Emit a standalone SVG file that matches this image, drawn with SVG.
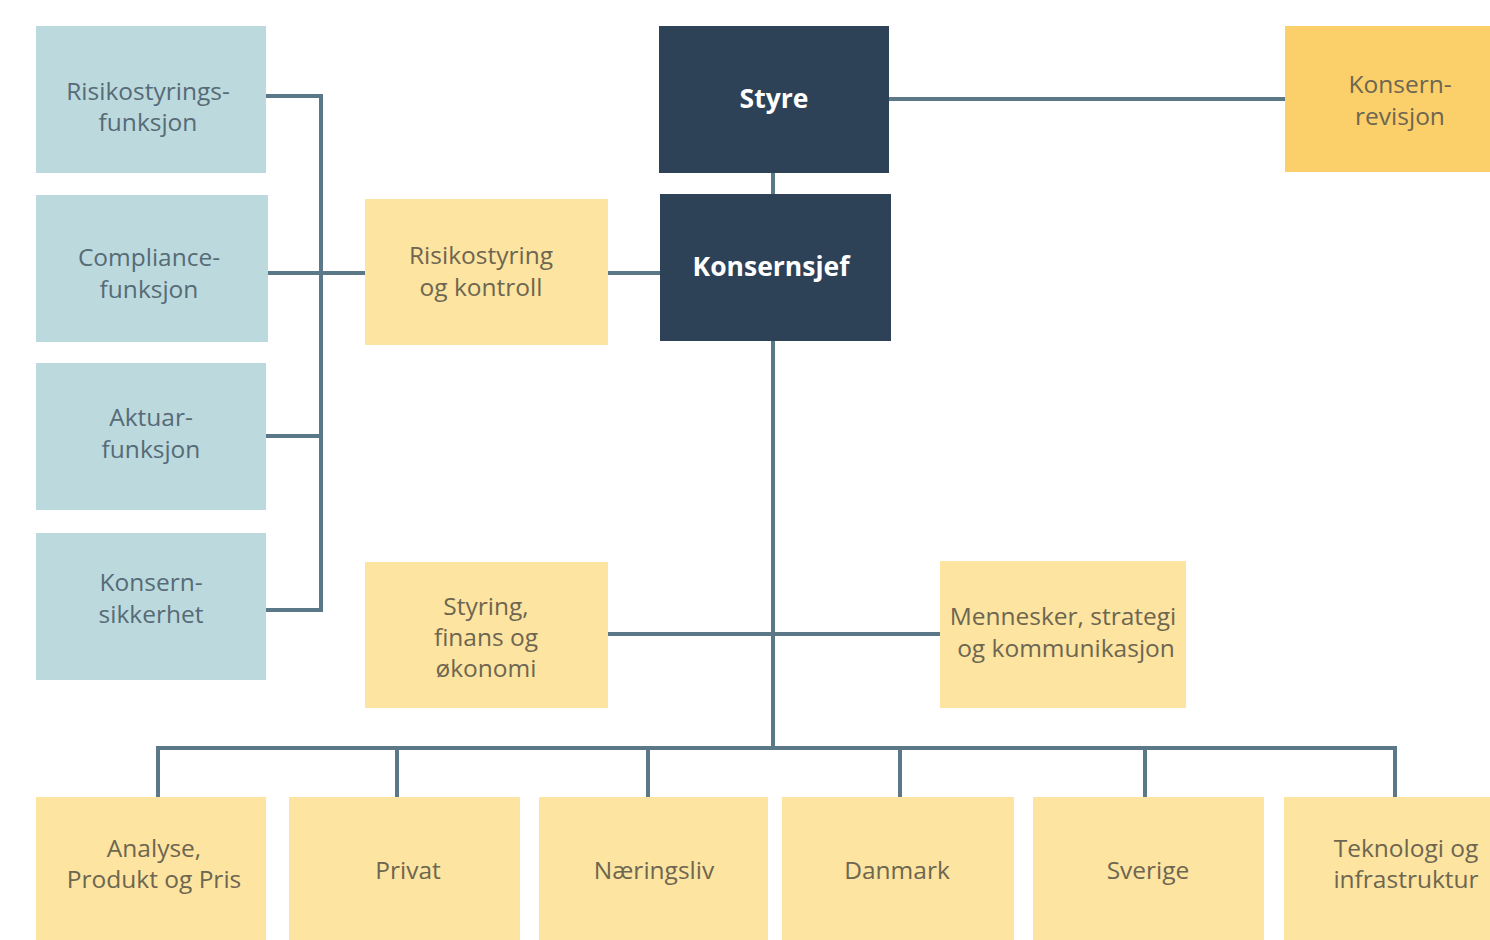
<svg xmlns="http://www.w3.org/2000/svg" width="1490" height="940" viewBox="0 0 1490 940">
<style>
.blue{fill:#bcd9de}
.yel{fill:#fde4a0}
.org{fill:#fbcf69}
.navy{fill:#2d4257}
.t{font-family:"Open Sans","Noto Sans",sans-serif;font-size:24.5px;text-anchor:middle;dominant-baseline:central}
.tb{fill:#566b76}
.ty{fill:#6d6651}
.tw{fill:#ffffff;font-weight:bold;font-size:26.5px}
.c{stroke:#5b7889;stroke-width:4;fill:none}
</style>
<rect width="1490" height="940" fill="#ffffff"/>
<g id="connectors">
<path class="c" d="M266 96H321V610H266M268 273H365M266 436H321"/>
<path class="c" d="M608 273H660"/>
<path class="c" d="M773 173V194"/>
<path class="c" d="M889 99H1285"/>
<path class="c" d="M773 341V748"/>
<path class="c" d="M608 634H940"/>
<path class="c" d="M158 797V748H1395V797M397 748V797M648 748V797M900 748V797M1145 748V797"/>
</g>
<g id="n-risikostyringsfunksjon"><rect class="blue" x="36" y="26" width="230" height="147"/><text class="t tb"><tspan x="148" y="90">Risikostyrings-</tspan><tspan x="148" y="121">funksjon</tspan></text></g>
<g id="n-compliance"><rect class="blue" x="36" y="195" width="232" height="147"/><text class="t tb"><tspan x="149" y="256">Compliance-</tspan><tspan x="149" y="288">funksjon</tspan></text></g>
<g id="n-aktuar"><rect class="blue" x="36" y="363" width="230" height="147"/><text class="t tb"><tspan x="151" y="416">Aktuar-</tspan><tspan x="151" y="448">funksjon</tspan></text></g>
<g id="n-konsernsikkerhet"><rect class="blue" x="36" y="533" width="230" height="147"/><text class="t tb"><tspan x="151" y="581">Konsern-</tspan><tspan x="151" y="613">sikkerhet</tspan></text></g>
<g id="n-risikostyring"><rect class="yel" x="365" y="199" width="243" height="146"/><text class="t ty"><tspan x="481" y="254">Risikostyring</tspan><tspan x="481" y="286">og kontroll</tspan></text></g>
<g id="n-styre"><rect class="navy" x="659" y="26" width="230" height="147"/><text class="t tw" x="774" y="98">Styre</text></g>
<g id="n-konsernsjef"><rect class="navy" x="660" y="194" width="231" height="147"/><text class="t tw" x="771" y="266">Konsernsjef</text></g>
<g id="n-konsernrevisjon"><rect class="org" x="1285" y="26" width="205" height="146"/><text class="t ty"><tspan x="1400" y="83">Konsern-</tspan><tspan x="1400" y="115">revisjon</tspan></text></g>
<g id="n-styring"><rect class="yel" x="365" y="562" width="243" height="146"/><text class="t ty"><tspan x="486" y="605">Styring,</tspan><tspan x="486" y="636">finans og</tspan><tspan x="486" y="667">økonomi</tspan></text></g>
<g id="n-mennesker"><rect class="yel" x="940" y="561" width="246" height="147"/><text class="t ty"><tspan x="1063" y="615">Mennesker, strategi</tspan><tspan x="1066" y="647">og kommunikasjon</tspan></text></g>
<g id="n-analyse"><rect class="yel" x="36" y="797" width="230" height="143"/><text class="t ty"><tspan x="154" y="847">Analyse,</tspan><tspan x="154" y="878">Produkt og Pris</tspan></text></g>
<g id="n-privat"><rect class="yel" x="289" y="797" width="231" height="143"/><text class="t ty" x="408" y="869">Privat</text></g>
<g id="n-naeringsliv"><rect class="yel" x="539" y="797" width="229" height="143"/><text class="t ty" x="654" y="869">Næringsliv</text></g>
<g id="n-danmark"><rect class="yel" x="782" y="797" width="232" height="143"/><text class="t ty" x="897" y="869">Danmark</text></g>
<g id="n-sverige"><rect class="yel" x="1033" y="797" width="231" height="143"/><text class="t ty" x="1148" y="869">Sverige</text></g>
<g id="n-teknologi"><rect class="yel" x="1284" y="797" width="206" height="143"/><text class="t ty"><tspan x="1406" y="847">Teknologi og</tspan><tspan x="1406" y="878">infrastruktur</tspan></text></g>
</svg>
